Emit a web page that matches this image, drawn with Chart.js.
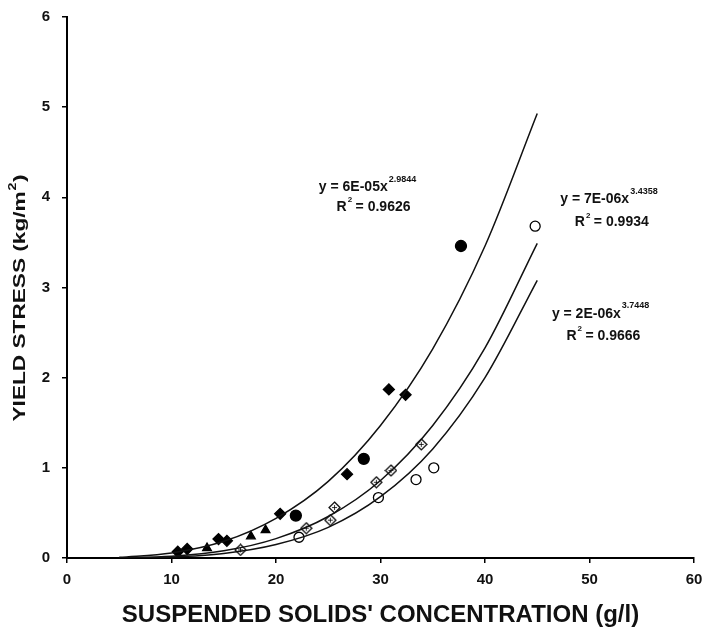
<!DOCTYPE html>
<html>
<head>
<meta charset="utf-8">
<script src="https://cdn.jsdelivr.net/npm/chart.js@4"></script>
<style>
  body { margin: 0; background: #fff; }
  #wrap { width: 704px; height: 634px; }
</style>
</head>
<body>
<div id="wrap"><canvas id="myChart" width="704" height="634"></canvas></div>
<script>
const filledDiamondX = [10.6, 11.5, 14.5, 15.3, 20.4, 26.8, 30.8, 32.4];
const filledDiamondY = [0.07, 0.10, 0.21, 0.19, 0.49, 0.93, 1.87, 1.81];
const triangleX = [13.4, 17.6, 19.0];
const triangleY = [0.11, 0.24, 0.31];
const filledCircleX = [21.9, 28.4, 37.7];
const filledCircleY = [0.47, 1.10, 3.46];
const openDiamondX = [16.6, 22.9, 25.2, 25.6, 29.6, 31.0, 33.9];
const openDiamondY = [0.09, 0.33, 0.42, 0.56, 0.84, 0.97, 1.26];
const openCircleX = [22.2, 29.8, 33.4, 35.1, 44.8];
const openCircleY = [0.23, 0.67, 0.87, 1.00, 3.68];

// trend curves
const curveX = [5, 10, 15, 20, 25, 30, 35, 40, 45];
const curveTop = [0.007, 0.056, 0.185, 0.44, 0.85, 1.47, 2.32, 3.46, 4.93];
const curveMid = [0.002, 0.02, 0.08, 0.215, 0.46, 0.86, 1.47, 2.33, 3.49];
const curveLow = [0.0008, 0.011, 0.051, 0.15, 0.34, 0.68, 1.21, 2.0, 3.08];

// trendline labels (x, y of the equation start; rx, ry of the R2 start)
const eqLabels = [
  { x: 24.1, y: 4.11, base: 'y = 6E-05x', sup: '2.9844', rx: 25.8, ry: 3.89, r2: '0.9626' },
  { x: 47.2, y: 3.98, base: 'y = 7E-06x', sup: '3.4358', rx: 48.6, ry: 3.72, r2: '0.9934' },
  { x: 46.4, y: 2.71, base: 'y = 2E-06x', sup: '3.7448', rx: 47.8, ry: 2.46, r2: '0.9666' }
];

const pts = (xs, ys) => xs.map((x, i) => ({ x: x, y: ys[i] }));

// open diamond with a small cross inside
function crossDiamond() {
  const c = document.createElement('canvas');
  c.width = 13; c.height = 13;
  const g = c.getContext('2d');
  g.fillStyle = '#fff';
  g.strokeStyle = '#000';
  g.lineWidth = 1.2;
  g.beginPath();
  g.moveTo(6.5, 1); g.lineTo(12, 6.5); g.lineTo(6.5, 12); g.lineTo(1, 6.5); g.closePath();
  g.fill(); g.stroke();
  g.lineWidth = 0.8;
  g.beginPath();
  g.moveTo(4, 6.5); g.lineTo(9, 6.5);
  g.moveTo(6.5, 4); g.lineTo(6.5, 9);
  g.stroke();
  return c;
}

function curve(ys) {
  return {
    type: 'line',
    data: pts(curveX, ys),
    borderColor: '#111',
    borderWidth: 1.5,
    pointRadius: 0,
    fill: false,
    cubicInterpolationMode: 'monotone'
  };
}

function marks(xs, ys, style, fill, r) {
  return {
    type: 'scatter',
    data: pts(xs, ys),
    pointStyle: style,
    pointRadius: r,
    backgroundColor: fill,
    borderColor: '#000',
    borderWidth: 1.3
  };
}

const FONT = '"Liberation Sans", Arial, sans-serif';

const labelPlugin = {
  id: 'eqLabels',
  afterDraw(chart) {
    const ctx = chart.ctx;
    const xs = chart.scales.x, ys = chart.scales.y;
    ctx.save();
    ctx.fillStyle = '#111';
    ctx.textBaseline = 'middle';
    ctx.textAlign = 'left';
    eqLabels.forEach(l => {
      const px = xs.getPixelForValue(l.x), py = ys.getPixelForValue(l.y);
      ctx.font = 'bold 14px ' + FONT;
      ctx.fillText(l.base, px, py);
      const w = ctx.measureText(l.base).width;
      ctx.font = 'bold 9px ' + FONT;
      ctx.fillText(l.sup, px + w + 1, py - 8);
      const rx = xs.getPixelForValue(l.rx), ry = ys.getPixelForValue(l.ry);
      ctx.font = 'bold 14px ' + FONT;
      ctx.fillText('R', rx, ry);
      const rw = ctx.measureText('R').width;
      ctx.font = 'bold 8px ' + FONT;
      ctx.fillText('2', rx + rw + 1, ry - 7);
      ctx.font = 'bold 14px ' + FONT;
      ctx.fillText(' = ' + l.r2, rx + rw + 5, ry);
    });

    // y axis title, slightly stretched like the scanned original
    const main = 'YIELD STRESS (kg/m', tail = ')';
    ctx.translate(21, 298);
    ctx.rotate(-Math.PI / 2);
    ctx.font = 'bold 16px ' + FONT;
    const mw = ctx.measureText(main).width;
    const tw = ctx.measureText(tail).width;
    ctx.font = 'bold 10px ' + FONT;
    const sw = ctx.measureText('2').width;
    const total = mw + sw + 1 + tw;
    const k = 247 / total;
    ctx.scale(k, 1);
    let x0 = -total / 2;
    ctx.font = 'bold 16px ' + FONT;
    ctx.fillText(main, x0, 0);
    ctx.font = 'bold 10px ' + FONT;
    ctx.fillText('2', x0 + mw + 0.5, -8);
    ctx.font = 'bold 16px ' + FONT;
    ctx.fillText(tail, x0 + mw + sw + 1, 0);
    ctx.restore();
  }
};

const ctx = document.getElementById('myChart');
const myChart = new Chart(ctx, {
  data: {
    datasets: [
      curve(curveTop),
      curve(curveMid),
      curve(curveLow),
      marks(filledDiamondX, filledDiamondY, 'rectRot', '#000', 5.5),
      marks(triangleX, triangleY, 'triangle', '#000', 5),
      marks(filledCircleX, filledCircleY, 'circle', '#000', 5.5),
      marks(openDiamondX, openDiamondY, crossDiamond(), '#fff', 5),
      marks(openCircleX, openCircleY, 'circle', '#fff', 5)
    ]
  },
  options: {
    responsive: false,
    animation: false,
    layout: { padding: { top: 17, right: 10, left: 0, bottom: 0 } },
    plugins: { legend: { display: false }, tooltip: { enabled: false } },
    scales: {
      x: {
        type: 'linear',
        min: 0, max: 60,
        ticks: { stepSize: 10, color: '#111', font: { family: FONT, size: 15, weight: 'bold' }, padding: 8 },
        grid: { drawOnChartArea: false, drawTicks: true, tickLength: 5, color: '#000', lineWidth: 1.5 },
        border: { color: '#000', width: 2 },
        title: {
          display: true,
          text: "SUSPENDED SOLIDS' CONCENTRATION (g/l)",
          color: '#111',
          font: { family: FONT, size: 24, weight: 'bold' },
          padding: { top: 2 }
        },
        afterFit(s) { s.height = 76; s.paddingLeft = 0; s.paddingRight = 0; }
      },
      y: {
        min: 0, max: 6,
        ticks: { stepSize: 1, color: '#111', font: { family: FONT, size: 15, weight: 'bold' }, padding: 12 },
        grid: { drawOnChartArea: false, drawTicks: true, tickLength: 5, color: '#000', lineWidth: 1.5 },
        border: { color: '#000', width: 2 },
        afterFit(s) { s.width = 67; s.paddingTop = 0; s.paddingBottom = 0; }
      }
    }
  },
  plugins: [labelPlugin]
});
</script>
</body>
</html>
